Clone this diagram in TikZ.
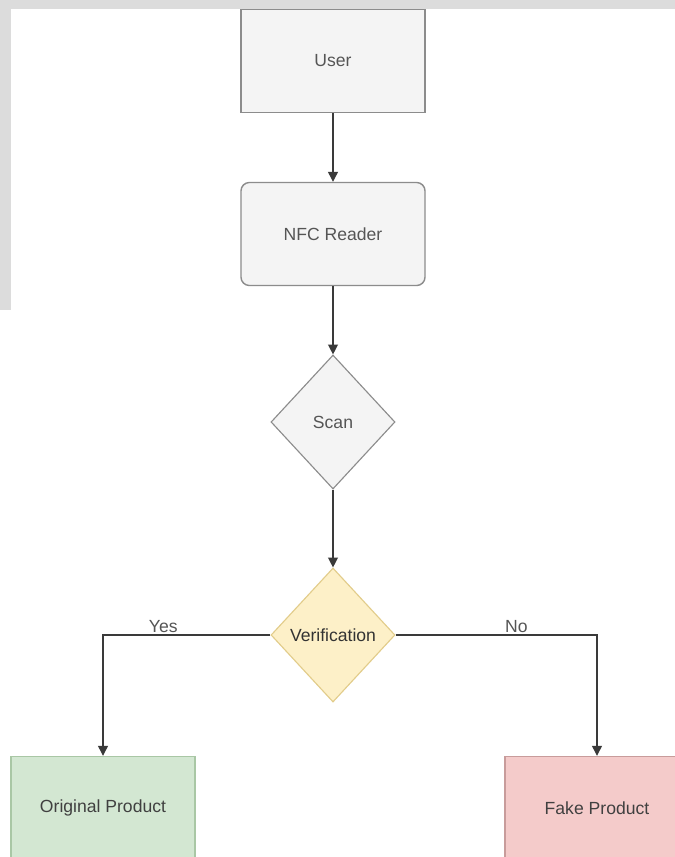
\documentclass[tikz,border=0pt]{standalone}
\usepackage{fontspec}
\setmainfont{Liberation Sans}
\usetikzlibrary{shapes,arrows.meta,positioning}
\usepackage{xcolor}
\definecolor{greyfill}{HTML}{F4F4F4}
\definecolor{greyline}{HTML}{8C8C8C}
\definecolor{greytext}{HTML}{555555}
\definecolor{yellowfill}{HTML}{FDF0C8}
\definecolor{yellowline}{HTML}{E2CC8A}
\definecolor{greenfill}{HTML}{D3E7D2}
\definecolor{greenline}{HTML}{A9C7A5}
\definecolor{redfill}{HTML}{F4CBCA}
\definecolor{redline}{HTML}{C89C9B}
\definecolor{edgecol}{HTML}{3A3A3A}
\definecolor{bandcol}{HTML}{DCDCDC}

\begin{document}
\begin{tikzpicture}[x=0.025cm,y=-0.025cm,
    box/.style={draw=greyline, fill=greyfill, line width=1pt, minimum width=4.6cm,
      minimum height=2.575cm, text=greytext, font=\fontsize{12.5}{15}\selectfont},
    choice/.style={diamond, draw=greyline, fill=greyfill, line width=0.8pt, inner sep=0pt,
      minimum width=3.1cm, minimum height=3.35cm, text=greytext,
      font=\fontsize{12.5}{15}\selectfont},
    link/.style={draw=edgecol, line width=0.9pt, -{Triangle[width=7pt,length=7pt]}},
    lbl/.style={text=greytext, font=\fontsize{12.5}{15}\selectfont, inner sep=1pt}]
  \clip (0,0) rectangle (675,857);
  \fill[white] (0,0) rectangle (675,857);
  \fill[bandcol] (0,0) rectangle (675,9);
  \fill[bandcol] (0,0) rectangle (11,310);

  % boxes
  \node[box] (user) at (333,61) {User};
  \node[box, rounded corners=6pt] (reader) at (333,234) {NFC Reader};
  \node[choice] (scan) at (333,422) {Scan};
  \node[choice, fill=yellowfill, draw=yellowline, text=black!80] (verif) at (333,635) {Verification};
  \node[box, fill=greenfill, draw=greenline, text=black!75] (orig) at (103,808) {Original Product};
  \node[box, fill=redfill, draw=redline, text=black!75] (fake) at (597,808) {Fake Product};

  % arrows
  \draw[link] (user) -- (reader);
  \draw[link] (reader) -- (scan);
  \draw[link] (scan) -- (verif);
  \draw[link] (verif.west) -| (orig.north) node[lbl, pos=0.32, above] {Yes};
  \draw[link] (verif.east) -| (fake.north) node[lbl, pos=0.3, above] {No};
\end{tikzpicture}
\end{document}
